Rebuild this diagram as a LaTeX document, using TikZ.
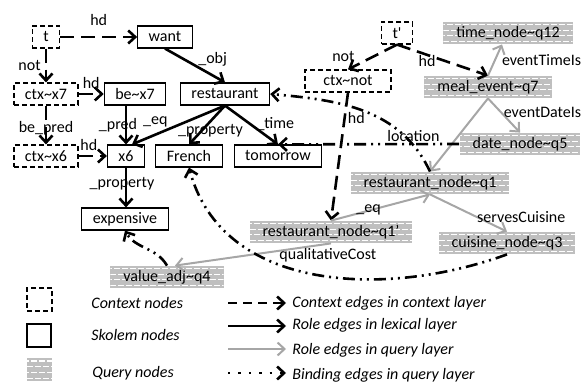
\documentclass[tikz,border=0pt]{standalone}
\usepackage{fontspec}
\setmainfont{Carlito}
\usetikzlibrary{arrows.meta,calc}

\definecolor{qfill}{HTML}{BFBFBF}
\definecolor{qline}{HTML}{A6A6A6}

\begin{document}
\begin{tikzpicture}[x=0.5pt,y=0.5pt,font=\fontsize{8}{9.6}\selectfont,inner sep=1pt,
  >={Straight Barb[length=3.5pt,width=6.5pt]},
  box/.style={draw,line width=0.6pt,minimum height=11pt,inner xsep=5.5pt,inner ysep=1pt},
  ctxbox/.style={box,dash pattern=on 2.5pt off 1.5pt},
  qbox/.style={fill=qfill,minimum height=11pt,inner xsep=6.5pt,inner ysep=1pt,
    path picture={
      \foreach \k/\ph in {0.12/0pt,0.37/2pt,0.62/0pt,0.87/2pt}
        \draw[white,line width=0.6pt,dash pattern=on 3pt off 1pt,dash phase=\ph]
          ($(path picture bounding box.south west)!\k!(path picture bounding box.north west)$)
          -- ($(path picture bounding box.south east)!\k!(path picture bounding box.north east)$);
    }},
  ctxedge/.style={->,line width=1.3pt,dash pattern=on 7pt off 3.5pt},
  roleedge/.style={->,line width=1.3pt},
  qedge/.style={->,line width=1pt,draw=qline},
  bindedge/.style={->,line width=1.3pt,dash pattern=on 6pt off 2.5pt on 1pt off 2.5pt on 1pt off 2.5pt},
  legtext/.style={anchor=west,font=\fontsize{8}{9.6}\selectfont\itshape}]
\useasboundingbox (0,0) rectangle (582,385);

% context and skolem nodes
\node [ctxbox] (t) at (46,348) {t};
\node [box] (want) at (165,348) {want};
\node [ctxbox] (ctxx7) at (46,291) {ctx\textasciitilde x7};
\node [box] (bex7) at (135,291) {be\textasciitilde x7};
\node [box] (rest) at (225,291) {restaurant};
\node [ctxbox] (ctxx6) at (46,229) {ctx\textasciitilde x6};
\node [box] (xsix) at (126,229) {x6};
\node [box] (french) at (189,229) {French};
\node [box] (tomorrow) at (278,229) {tomorrow};
\node [box] (expensive) at (125,166) {expensive};
\node [ctxbox] (tp) at (397,352) {t\textquotesingle};
\node [ctxbox,minimum width=43pt] (ctxnot) at (348,304) {ctx\textasciitilde not};

% query nodes
\node [qbox] (timenode) at (508,352) {time\_node\textasciitilde q12};
\node [qbox] (meal) at (488,298) {meal\_event\textasciitilde q7};
\node [qbox] (date) at (520,241) {date\_node\textasciitilde q5};
\node [qbox] (rq1) at (430,202) {restaurant\_node\textasciitilde q1};
\node [qbox] (rq1p) at (331,153) {restaurant\_node\textasciitilde q1'};
\node [qbox] (cuisine) at (507,142) {cuisine\_node\textasciitilde q3};
\node [qbox] (valueadj) at (167,108) {value\_adj\textasciitilde q4};

% context edges
\draw [ctxedge] (t) -- node[above=4pt]{hd} (want);
\draw [ctxedge] (t) -- node[left=1pt]{not} (ctxx7);
\draw [ctxedge] (ctxx7) -- node[above=1pt]{hd} (bex7);
\draw [ctxedge] (ctxx7) -- node[yshift=-1.5pt]{be\_pred} (ctxx6);
\draw [ctxedge] (ctxx6) -- node[above=1pt,xshift=-2pt]{hd} (xsix);
\draw [ctxedge] (tp.south) -- node[pos=0.8,above left=0pt]{not} (ctxnot.north);
\draw [ctxedge] (tp.south) -- node[pos=0.33,below=-1.5pt]{hd} (meal.north);
\draw [ctxedge] (ctxnot.south) -- node[pos=0.2,right]{hd} (rq1p.north);

% role edges, lexical layer
\draw [roleedge] (want.south) -- node[anchor=west,yshift=3pt]{\_obj} (rest.north);
\draw [roleedge] (xsix |- bex7.south) -- node[xshift=-4pt]{\_pred} (xsix.north);
\draw [roleedge] (rest.south) -- node[pos=0.75,above=2pt]{\_eq} ([xshift=3pt]xsix.north);
\draw [roleedge] (rest.south) -- node[pos=0.6,xshift=3.5pt,yshift=-1pt]{\_property} (french.north);
\draw [roleedge] (rest.south) -- node[pos=0.57,anchor=west,inner sep=0pt,yshift=2pt]{\_time} (tomorrow.north);
\draw [roleedge] (xsix.south) -- node[xshift=-2pt,yshift=2pt]{\_property} (xsix.south |- expensive.north);

% role edges, query layer
\draw [qedge] (meal.north) -- node[right,xshift=2pt]{eventTimeIs} ([xshift=-3pt]timenode.south);
\draw [qedge] (meal.south) -- node[pos=0.4,right]{eventDateIs} (date.north);
\draw [qedge] (meal.south) -- node[pos=0.51,left=8pt]{location} (rq1.north);
\draw [qedge] (rq1p.north) -- node[pos=0.38,above=-3.5pt]{\_eq} (rq1.south);
\draw [qedge] (rq1.south) -- node[pos=0.6,right=-1pt]{servesCuisine} (cuisine.north);
\draw [qedge] (rq1p.south) -- node[pos=0.02,below=1pt]{qualitativeCost} ([xshift=4pt]valueadj.north);

% binding edges
\draw [bindedge] (rq1.north) to[out=115,in=-5] (rest.east);
\draw [bindedge] (date.west) -- (tomorrow.north);
\draw [bindedge] (cuisine.south) to[out=-160,in=-75] (french.south);
\draw [bindedge] (valueadj.north) to[out=120,in=-60] (expensive.south);

% legend
\node [ctxbox,minimum width=12.5pt,minimum height=11.5pt,inner sep=0pt] (lgctx) at (39.5,85.5) {};
\node [box,minimum width=12pt,minimum height=11.5pt,inner sep=0pt] (lgsk) at (39,49.5) {};
\node [qbox,minimum width=12.5pt,minimum height=11.5pt,inner sep=0pt] (lgq) at (39.5,15.5) {};
\node [legtext] (lgctxt) at (89,82) {Context nodes};
\node [legtext] (lgskt) at (89,50) {Skolem nodes};
\node [legtext] (lgqt) at (90,12) {Query nodes};

\coordinate (la1) at (228,82);  \coordinate (lb1) at (286,82);
\coordinate (la2) at (228,59);  \coordinate (lb2) at (286,59);
\coordinate (la3) at (228,36);  \coordinate (lb3) at (286,36);
\coordinate (la4) at (228,12);  \coordinate (lb4) at (286,12);
\draw [ctxedge,dash pattern=on 4.5pt off 3pt] (la1) -- (lb1);
\draw [roleedge] (la2) -- (lb2);
\draw [qedge] (la3) -- (lb3);
\draw [bindedge,dash pattern=on 1.2pt off 4pt] (la4) -- (lb4);
\node [legtext] (lgce) at (290,82) {Context edges in context layer};
\node [legtext] (lgre) at (290,60) {Role edges in lexical layer};
\node [legtext] (lgqe) at (290,35) {Role edges in query layer};
\node [legtext] (lgbe) at (290,10) {Binding edges in query layer};
\end{tikzpicture}
\end{document}
